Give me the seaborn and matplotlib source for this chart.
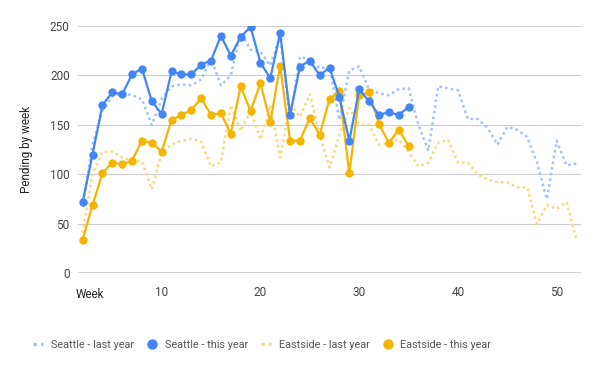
import matplotlib
matplotlib.use("Agg")
import matplotlib.pyplot as plt
from matplotlib.lines import Line2D
import seaborn as sns
import pandas as pd

weeks_this = list(range(2, 36))
weeks_last = list(range(2, 53))

seattle_this = [72, 120, 170, 183, 181, 201, 207, 174, 161, 204, 201, 201, 211, 215, 240, 220, 239,
                249, 213, 197, 243, 160, 209, 215, 200, 208, 178, 134, 186, 174, 160, 163, 160, 168]
eastside_this = [34, 69, 101, 112, 110, 114, 134, 132, 123, 155, 160, 165, 177, 160, 162, 141, 189,
                 164, 192, 153, 210, 134, 134, 157, 140, 176, 184, 101, 180, 183, 151, 132, 145, 129]
seattle_last = [67, 130, 164, 179, 182, 180, 176, 150, 176, 189, 191, 190, 196, 217, 190, 200, 244,
                226, 224, 210, 240, 157, 219, 216, 207, 209, 155, 205, 209, 186, 182, 180, 186, 187,
                150, 124, 189, 187, 185, 156, 156, 147, 130, 148, 145, 138, 112, 75, 134, 109, 111]
eastside_last = [41, 100, 123, 123, 117, 114, 113, 85, 122, 130, 134, 136, 133, 108, 112, 170, 144,
                 164, 135, 170, 117, 172, 158, 181, 140, 107, 140, 167, 150, 150, 130, 132, 135, 123,
                 108, 112, 132, 135, 112, 112, 100, 95, 92, 92, 87, 87, 50, 69, 65, 72, 34]

labels = ["Seattle - last year", "Seattle - this year", "Eastside - last year", "Eastside - this year"]
x_ticks = [10, 20, 30, 40, 50]
y_ticks = [0, 50, 100, 150, 200, 250]

BLUE = "#4285F4"
YELLOW = "#F4B400"
BLUE_L = "#A0C0F8"
YELLOW_L = "#F9D77F"

sns.set_theme(style="white")
plt.rcParams["font.family"] = ["Roboto", "DejaVu Sans"]

fig = plt.figure(figsize=(6, 3.71), dpi=100)
ax = fig.add_axes([0.13, 0.2633, 0.838, 0.6667])

df_sl = pd.DataFrame({"week": weeks_last, "value": seattle_last})
df_el = pd.DataFrame({"week": weeks_last, "value": eastside_last})
df_st = pd.DataFrame({"week": weeks_this, "value": seattle_this})
df_et = pd.DataFrame({"week": weeks_this, "value": eastside_this})

dot_kw = dict(linewidth=1.8, dashes=(1, 1.3), dash_capstyle="butt")
sns.lineplot(data=df_sl, x="week", y="value", ax=ax, color=BLUE_L, zorder=2, **dot_kw)
sns.lineplot(data=df_el, x="week", y="value", ax=ax, color=YELLOW_L, zorder=2, **dot_kw)
sns.lineplot(data=df_st, x="week", y="value", ax=ax, color=BLUE, linewidth=1.6,
             marker="o", markersize=6, markeredgewidth=0, zorder=4)
sns.lineplot(data=df_et, x="week", y="value", ax=ax, color=YELLOW, linewidth=1.6,
             marker="o", markersize=6, markeredgewidth=0, zorder=3)

ax.set_xlim(1.53, 52.44)
ax.set_ylim(0, 250)
ax.set_xticks(x_ticks)
ax.set_yticks(y_ticks)
ax.tick_params(axis="both", length=0, labelsize=8.5, labelcolor="#444444")
ax.tick_params(axis="x", pad=9)
ax.tick_params(axis="y", pad=6)
for s in ax.spines.values():
    s.set_visible(False)
ax.grid(axis="y", color="#cccccc", linewidth=0.8)
ax.grid(axis="x", visible=False)
ax.axhline(0, color="#333333", linewidth=1.0, zorder=5)
ax.set_xlabel("")
ax.set_ylabel("Pending by week", fontsize=8.5, color="#222222", labelpad=12)
fig.text(76 / 600, 1 - 295 / 371, "Week", fontsize=8.5, color="#222222", ha="left", va="center")

handles = [
    Line2D([0], [0], color=BLUE_L, linewidth=2.4, linestyle=(0, (1, 1.3)), dash_capstyle="butt"),
    Line2D([0], [0], color=BLUE, linestyle="none", marker="o", markersize=7.5, markeredgewidth=0),
    Line2D([0], [0], color=YELLOW_L, linewidth=2.4, linestyle=(0, (1, 1.3)), dash_capstyle="butt"),
    Line2D([0], [0], color=YELLOW, linestyle="none", marker="o", markersize=7.5, markeredgewidth=0),
]
leg = fig.legend(handles, labels, loc="center", bbox_to_anchor=(262 / 600, 1 - 345 / 371),
                 ncol=4, frameon=False, fontsize=7.8, handlelength=0.95, handletextpad=0.7,
                 columnspacing=1.2)
for t in leg.get_texts():
    t.set_color("#555555")

fig.savefig("out.png", dpi=100)
